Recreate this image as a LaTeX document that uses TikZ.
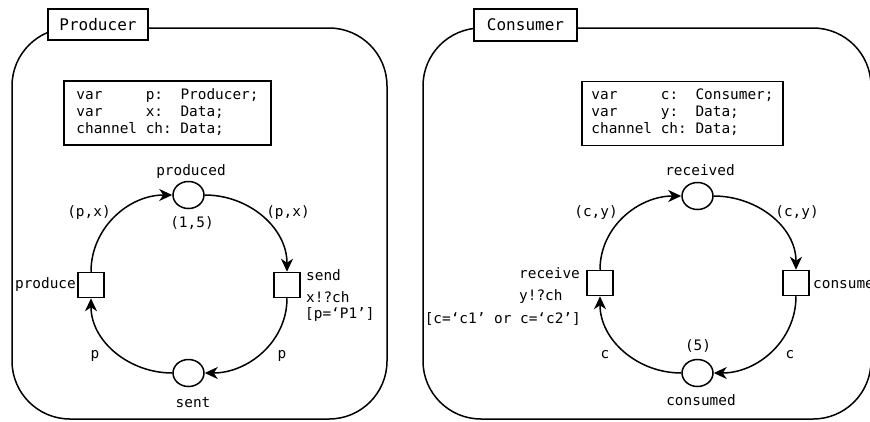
\documentclass[tikz,border=0pt]{standalone}
\usepackage{fontspec}
\setmainfont{DejaVu Sans Mono}
\usetikzlibrary{shapes.geometric,arrows.meta}
\begin{document}
\begin{tikzpicture}[x=1pt,y=1pt,
  every node/.style={font=\fontsize{14.4}{17}\selectfont, inner sep=0pt},
  panel/.style={draw, line width=1.5pt, rounded corners=58pt},
  tab/.style={draw, line width=1.5pt, fill=white, font=\fontsize{16}{19}\selectfont},
  decl/.style={draw, line width=1.5pt, minimum height=64pt},
  place/.style={draw, line width=1.5pt, ellipse, minimum width=31pt, minimum height=27pt},
  trans/.style={draw, line width=1.5pt, rectangle, minimum width=26pt, minimum height=25pt},
  arc/.style={line width=1.5pt, -{Stealth[length=13pt,width=12pt,inset=4pt]}},
  lbl/.style={anchor=base},
  lbll/.style={anchor=base west},
  lblr/.style={anchor=base east}]
\useasboundingbox (0,0) rectangle (870,-421);
\clip (0,0) rectangle (870,-421);

% ---------------- Producer ----------------
\draw[panel] (12,-28) rectangle (387,-419);
\node[tab, minimum width=100pt, minimum height=31pt] (ptab) at (98,-24.5) {Producer};
\node[decl, minimum width=207pt] (pdecl) at (167.5,-113)
  {\begin{tabular}{@{}l@{\ }l@{\ }l@{}}
   var & p: & Producer;\\
   var & x: & Data;\\
   channel & ch: & Data;
   \end{tabular}};

\node[place] (produced) at (188.5,-195) {};
\node[place] (sent) at (188.5,-373) {};
\node[trans] (produce) at (91,-285) {};
\node[trans] (send) at (287,-285) {};

\draw[arc] (produce.north) to[out=90,in=180] (produced.west);
\draw[arc] (produced.east) to[out=0,in=90] (send.north);
\draw[arc] (send.south) to[out=-90,in=0] (sent.east);
\draw[arc] (sent.west) to[out=180,in=-90] (produce.south);

\node[lbl] (producedname) at (191,-175) {produced};
\node[lbl] (producedinit) at (192,-227) {(1,5)};
\node[lbl] (inpx) at (89,-216) {(p,x)};
\node[lbl] (outpx) at (288,-216) {(p,x)};
\node[lbl] (inp) at (95,-358) {p};
\node[lbl] (outp) at (282,-358) {p};
\node[lbl] (sentname) at (193,-407) {sent};
\node[lblr] (producename) at (76,-288) {produce};
\node[lbll] (sendname) at (306,-280) {send};
\node[lbll] (sendexpr) at (306,-302) {x!?ch};
\node[lbll] (sendguard) at (305,-318) {[p=‘P1’]};

% ---------------- Consumer ----------------
\draw[panel] (423,-28) rectangle (871,-419);
\node[tab, minimum width=103pt, minimum height=32pt] (ctab) at (525.5,-25) {Consumer};
\node[decl, minimum width=201pt] (cdecl) at (682.5,-113.5)
  {\begin{tabular}{@{}l@{\ }l@{\ }l@{}}
   var & c: & Consumer;\\
   var & y: & Data;\\
   channel & ch: & Data;
   \end{tabular}};

\node[place] (received) at (697.5,-196) {};
\node[place] (consumed) at (697.5,-373) {};
\node[trans] (receive) at (600,-283) {};
\node[trans] (consume) at (796,-283) {};

\draw[arc] (receive.north) to[out=90,in=180] (received.west);
\draw[arc] (received.east) to[out=0,in=90] (consume.north);
\draw[arc] (consume.south) to[out=-90,in=0] (consumed.east);
\draw[arc] (consumed.west) to[out=180,in=-90] (receive.south);

\node[lbl] (receivedname) at (700,-175) {received};
\node[lbl] (incy) at (596,-216) {(c,y)};
\node[lbl] (outcy) at (797,-216) {(c,y)};
\node[lbl] (consumedinit) at (698,-350) {(5)};
\node[lbl] (inc) at (605,-358) {c};
\node[lbl] (outc) at (790,-358) {c};
\node[lbl] (consumedname) at (701,-405) {consumed};
\node[lbll] (receivename) at (519,-278) {receive};
\node[lbll] (receiveexpr) at (519,-300) {y!?ch};
\node[lblr] (receiveguard) at (581,-323) {[c=‘c1’ or c=‘c2’]};
\node[lbll] (consumename) at (813,-288) {consume};
\end{tikzpicture}
\end{document}
